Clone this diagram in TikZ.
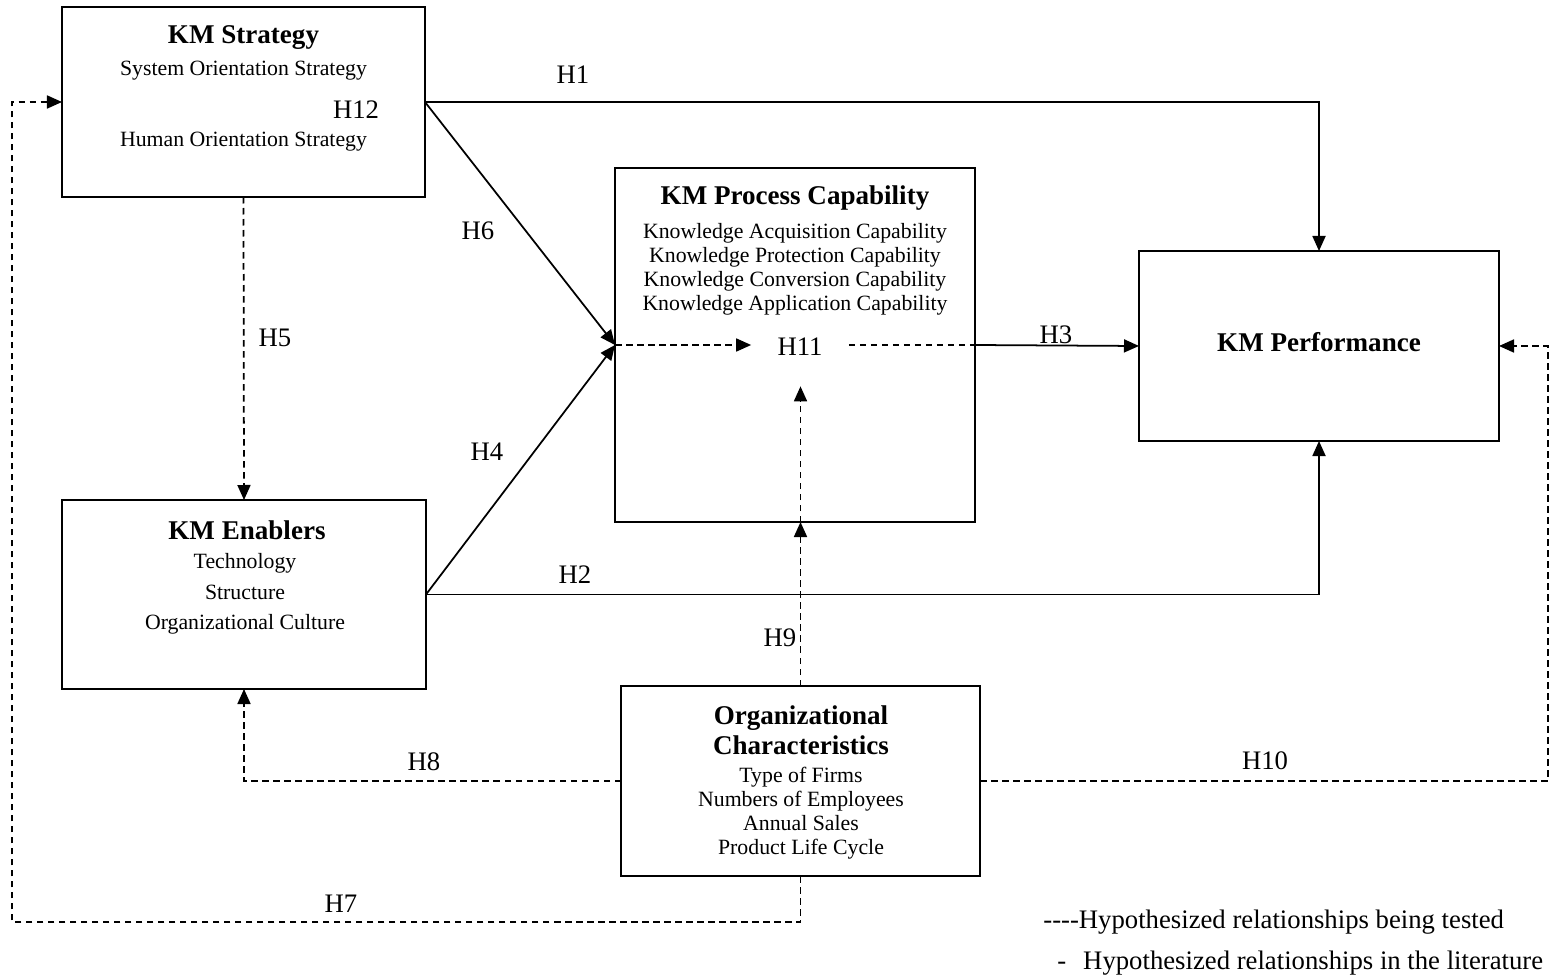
\documentclass[tikz,border=0pt]{standalone}
\usepackage{fontspec}
\setmainfont{Liberation Serif}
\usetikzlibrary{arrows.meta,positioning}
\newcommand{\bodyfont}{\fontsize{12.4}{13.7}\selectfont}
\newcommand{\headfont}{\fontsize{15.4}{17}\selectfont\bfseries}
\newcommand{\hypfont}{\fontsize{15.2}{17}\selectfont}
\tikzset{
  box/.style={draw=black, line width=1pt, inner sep=0pt, outer sep=0pt, align=center},
  txt/.style={align=center, inner sep=0pt, font=\bodyfont},
  head/.style={align=center, inner sep=0pt, font=\headfont},
  hyp/.style={inner sep=0pt, font=\hypfont},
  arrow/.style={-{Triangle[length=3mm,width=2.6mm]}, line width=1pt},
  dashedarrow/.style={arrow, dash pattern=on 1.3mm off 0.9mm},
  dashedline/.style={line width=1pt, dash pattern=on 1.3mm off 0.9mm}
}

\begin{document}
\begin{tikzpicture}[x=0.2mm, y=-0.2mm]
\useasboundingbox (0,0) rectangle (1563,980);
% ---- boxes ----
\node[box, minimum width=72.6mm, minimum height=38mm] (strat) at (243.5,102) {};
\node[box, minimum width=72mm, minimum height=70.8mm] (proc) at (795,345) {};
\node[box, minimum width=72mm, minimum height=38mm] (perf) at (1319,346) {};
\node[box, minimum width=72.8mm, minimum height=37.8mm] (enab) at (244,594.5) {};
\node[box, minimum width=71.8mm, minimum height=38mm] (org) at (800.5,781) {};
% ---- box texts ----
\node[head] (strat-t) at (243.5,38) {KM Strategy};
\node[txt] (strat-a) at (243.5,71) {System Orientation Strategy};
\node[txt] (strat-b) at (243.5,142) {Human Orientation Strategy};
\node[head] (proc-t) at (795,198) {KM Process Capability};
\node[txt] (proc-a) at (795,269) {Knowledge Acquisition Capability\\Knowledge Protection Capability\\Knowledge Conversion Capability\\Knowledge Application Capability};
\node[head] (perf-t) at (1319,342) {KM Performance};
\node[head] (enab-t) at (247,530) {KM Enablers};
\node[txt, font=\fontsize{12.4}{17.4}\selectfont] (enab-a) at (245,594) {Technology\\Structure\\Organizational Culture};
\node[head] (org-t) at (801,730) {Organizational\\Characteristics};
\node[txt] (org-a) at (801,813.5) {Type of Firms\\Numbers of Employees\\Annual Sales\\Product Life Cycle};
% ---- hypothesis labels ----
\node[hyp] (h1) at (573,75) {H1};
\node[hyp] (h2) at (575,575) {H2};
\node[hyp] (h3) at (1056,335) {H3};
\node[hyp] (h4) at (487,452) {H4};
\node[hyp] (h5) at (275,338) {H5};
\node[hyp] (h6) at (478,231) {H6};
\node[hyp] (h7) at (341,904) {H7};
\node[hyp] (h8) at (424,762) {H8};
\node[hyp] (h9) at (780,638) {H9};
\node[hyp] (h10) at (1265,761) {H10};
\node[hyp, inner xsep=5.2mm, minimum height=15.6mm] (h11) at (800,347) {H11};
\node[hyp] (h12) at (356,110) {H12};
\coordinate (rt) at (1548,0);
\coordinate (lb) at (12,922);
% ---- solid: relationships in the literature ----
\draw[arrow] (strat.east) -| (perf.north);
\draw[arrow] (strat.east) -- (proc.west);
\draw[arrow] (enab.east) -- (proc.west);
\draw[arrow] (enab.east) -| (perf.south);
\draw[arrow] (proc.east) -- (perf.west);
% ---- dashed: relationships being tested ----
\draw[dashedarrow] (proc.west) -- (h11.west |- proc.west);
\draw[dashedline] (h11.east |- proc.east) -- (proc.east);
\draw[dashedarrow] (org.north) -- (org.north |- proc.south);
\draw[dashedarrow] (org.north |- proc.south) -- (org.north |- h11.south);
\draw[dashedarrow] (strat.south) -- (enab.north);
\draw[dashedarrow] (org.west) -| (enab.south);
\draw[dashedarrow] (org.east) -| (rt |- perf.east) -- (perf.east);
\draw[dashedarrow] (org.south) |- (lb) |- (strat.west);
% ---- legend ----
\node[hyp, anchor=west] (leg-a) at (1043,922) {-{}-{}-{}-Hypothesized relationships being tested};
\node[hyp, anchor=west] (leg-b) at (1057,963) {-\hspace{3.4mm}Hypothesized relationships in the literature};
\end{tikzpicture}
\end{document}
